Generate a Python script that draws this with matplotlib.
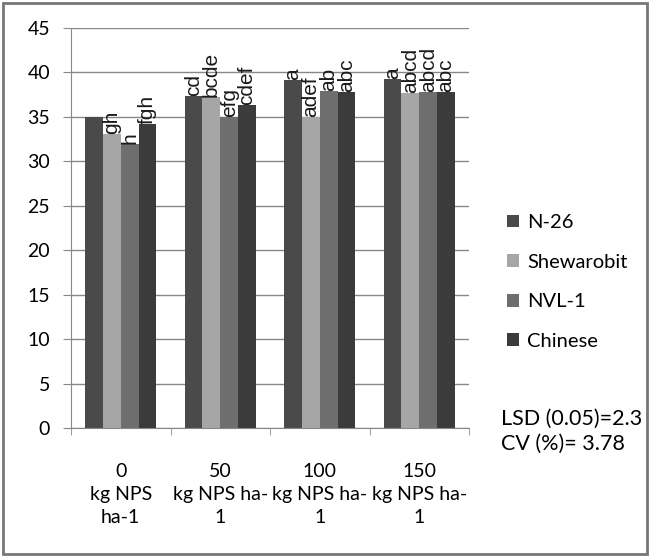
import numpy as np
import matplotlib.pyplot as plt
from matplotlib.patches import Rectangle

# data
categories = ["0\nkg NPS\nha-1", "50\nkg NPS ha-\n1", "100\nkg NPS ha-\n1", "150\nkg NPS ha-\n1"]
varieties = ["N-26", "Shewarobit", "NVL-1", "Chinese"]
n26 = [35.0, 37.4, 39.1, 39.3]
shewarobit = [33.1, 37.2, 35.0, 37.7]
nvl1 = [32.0, 35.0, 37.9, 37.8]
chinese = [34.2, 36.3, 37.8, 37.8]
letters_n26 = ["", "cd", "a", "a"]
letters_shewarobit = ["gh", "bcde", "adef", "abcd"]
letters_nvl1 = ["h", "efg", "ab", "abcd"]
letters_chinese = ["fgh", "cdef", "abc", "abc"]
colors = ["#4a4a4a", "#a6a6a6", "#6e6e6e", "#3b3b3b"]

series = [n26, shewarobit, nvl1, chinese]
letters = [letters_n26, letters_shewarobit, letters_nvl1, letters_chinese]

plt.rcParams['font.family'] = ['Lato', 'DejaVu Sans']

fig = plt.figure(figsize=(6.5, 5.57), dpi=100)
ax = fig.add_axes([71/650, 1 - 428/557, (469 - 71)/650, (428 - 28)/557])

x = np.arange(len(categories))
w = 0.179
for i, (vals, lab, col, let) in enumerate(zip(series, varieties, colors, letters)):
    pos = x + (i - 1.5) * w
    ax.bar(pos, vals, width=w, color=col, label=lab, zorder=2)
    for p, v, t in zip(pos, vals, let):
        if t:
            ax.text(p, v, t, rotation=90, ha='center', va='bottom', fontsize=15,
                    family='Liberation Sans', color='#1a1a1a', zorder=3)

ax.set_ylim(0, 45)
ax.set_yticks(range(0, 46, 5))
ax.set_xlim(-0.5, len(categories) - 0.5)
ax.set_xticks(x)
ax.set_xticklabels(categories, fontsize=14, linespacing=1.45)
ax.set_xticks(np.arange(-0.5, len(categories), 1), minor=True)
ax.tick_params(axis='x', which='major', length=0, pad=25)
ax.tick_params(axis='x', which='minor', length=5, color='#888888', direction='out')
ax.tick_params(axis='y', length=6, color='#888888', labelsize=14, pad=9)
ax.yaxis.grid(True, color='#888888', linewidth=1)
ax.set_axisbelow(True)
for s in ['top', 'right']:
    ax.spines[s].set_visible(False)
ax.spines['left'].set_color('#888888')
ax.spines['bottom'].set_color('#888888')

leg = fig.legend(loc='upper left', bbox_to_anchor=(489/650, 1 - 196/557), frameon=False,
                 fontsize=14.5, handlelength=0.6, handleheight=0.6, labelspacing=1.12,
                 handletextpad=0.4)

fig.text(501/650, 1 - 425/557, "LSD (0.05)=2.3", fontsize=15.5, va='baseline', ha='left')
fig.text(501/650, 1 - 450/557, "CV (%)= 3.78", fontsize=15.5, va='baseline', ha='left')

fig.patches.append(Rectangle((3/650, 3/557), 644/650, 551/557, transform=fig.transFigure,
                             fill=False, edgecolor='#777777', linewidth=2, zorder=10))

fig.savefig("out.png", dpi=100)
